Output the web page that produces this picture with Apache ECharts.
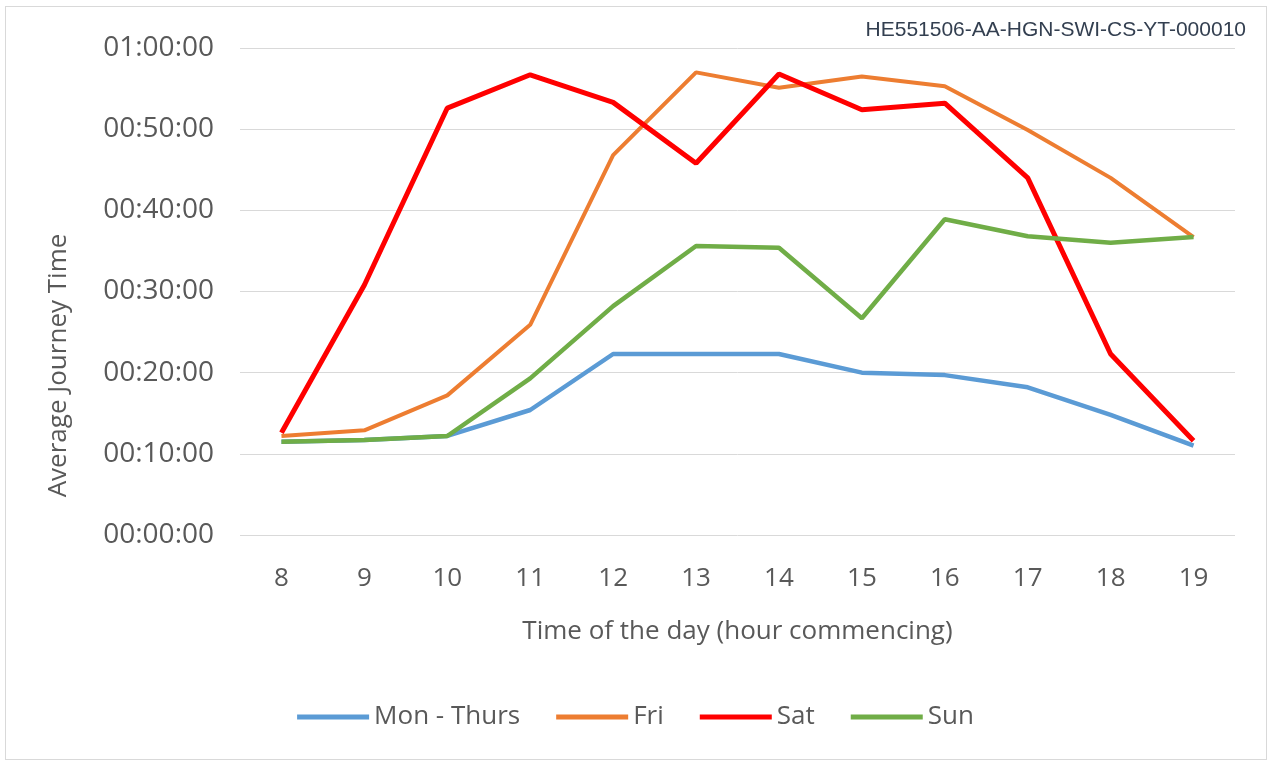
<!DOCTYPE html>
<html>
<head>
<meta charset="utf-8">
<script src="https://cdn.jsdelivr.net/npm/echarts@6/dist/echarts.min.js"></script>
<style>
    html, body { margin: 0; padding: 0; background: #fff; }
    #frame { position: absolute; left: 5px; top: 6px; width: 1262px; height: 754px; border: 1px solid #d9d9d9; box-sizing: border-box; }
    #chart { width: 1271px; height: 765px; }
</style>
</head>
<body>
<div id="frame"></div>
<div id="chart"></div>
<script>
    // hour commencing
    var hours = ["8", "9", "10", "11", "12", "13", "14", "15", "16", "17", "18", "19"];
    // average journey time, minutes
    var monThurs = [11.5, 11.7, 12.2, 15.4, 22.3, 22.3, 22.3, 20.0, 19.7, 18.2, 14.8, 11.0];
    var fri = [12.2, 12.9, 17.2, 25.9, 46.8, 57.0, 55.1, 56.5, 55.3, 49.9, 44.0, 36.7];
    var sat = [12.6, 30.8, 52.6, 56.7, 53.3, 45.8, 56.8, 52.4, 53.2, 44.0, 22.3, 11.6];
    var sun = [11.5, 11.7, 12.2, 19.3, 28.2, 35.6, 35.4, 26.7, 38.9, 36.8, 36.0, 36.7];

    function toSeconds(arr) {
        return arr.map(function (m) { return Math.round(m * 60); });
    }
    function pad(n) { return (n < 10 ? "0" : "") + n; }
    function hms(sec) {
        var h = Math.floor(sec / 3600);
        var m = Math.floor((sec % 3600) / 60);
        var s = sec % 60;
        return pad(h) + ":" + pad(m) + ":" + pad(s);
    }

    var font = "'Open Sans', 'Noto Sans', sans-serif";
    var chart = echarts.init(document.getElementById("chart"));

    function line(name, data, color, width) {
        return {
            name: name, type: "line", data: toSeconds(data),
            symbol: "none", smooth: false,
            lineStyle: {color: color, width: width},
            itemStyle: {color: color}
        };
    }

    chart.setOption({
        animation: false,
        textStyle: {fontFamily: font},
        grid: {left: 240, right: 36, top: 48, bottom: 230, containLabel: false},
        title: {
            text: "HE551506-AA-HGN-SWI-CS-YT-000010",
            right: 20, top: 15,
            textStyle: {fontFamily: "'Liberation Sans', Arial, sans-serif", fontSize: 21, fontWeight: "normal", color: "#333f50"}
        },
        xAxis: {
            type: "category", data: hours, boundaryGap: true,
            name: "Time of the day (hour commencing)",
            nameLocation: "middle", nameGap: 84,
            nameTextStyle: {fontSize: 26, color: "#595959", fontFamily: font},
            axisLine: {show: false}, axisTick: {show: false},
            axisLabel: {fontSize: 26, color: "#595959", margin: 31, fontFamily: font}
        },
        yAxis: {
            type: "value", min: 0, max: 3600, interval: 600,
            name: "Average Journey Time",
            nameLocation: "middle", nameGap: 168,
            nameTextStyle: {fontSize: 26, color: "#595959", fontFamily: font, padding: [0, 148, 0, 0]},
            axisLine: {show: false}, axisTick: {show: false},
            axisLabel: {fontSize: 28, color: "#595959", margin: 26, fontFamily: font, formatter: hms},
            splitLine: {lineStyle: {color: "#d9d9d9", width: 1}}
        },
        legend: {
            bottom: 30, left: "center",
            itemWidth: 72, itemHeight: 5, itemGap: 36,
            icon: "rect",
            textStyle: {fontSize: 26, color: "#595959", fontFamily: font},
            data: ["Mon - Thurs", "Fri", "Sat", "Sun"]
        },
        series: [
            line("Mon - Thurs", monThurs, "#5b9bd5", 4.5),
            line("Fri", fri, "#ed7d31", 4),
            line("Sat", sat, "#ff0000", 5),
            line("Sun", sun, "#70ad47", 4.5)
        ]
    });
</script>
</body>
</html>
